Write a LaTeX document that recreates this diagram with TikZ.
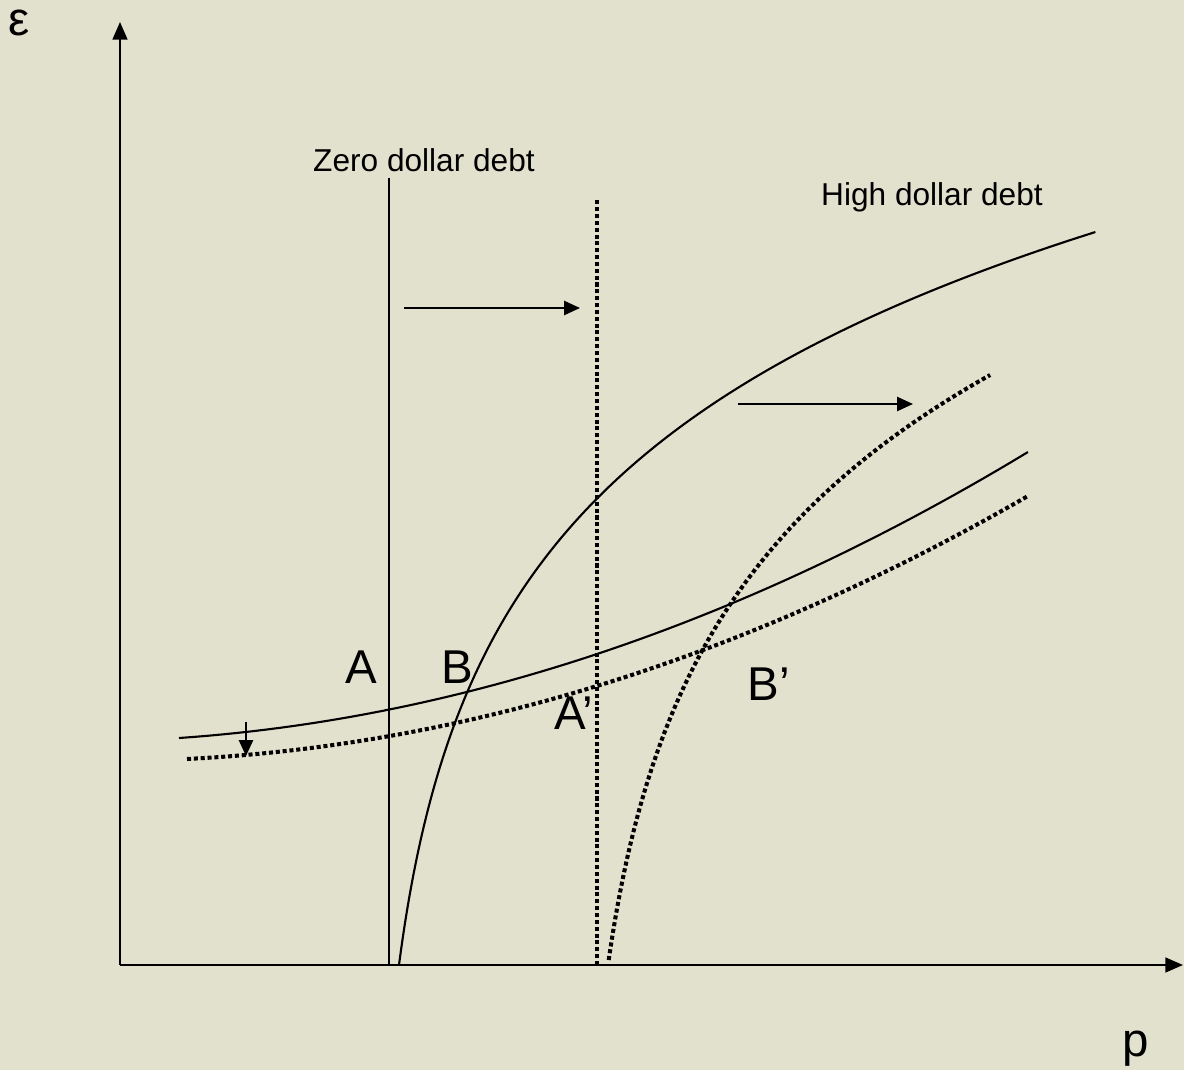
\documentclass[tikz,border=0pt]{standalone}
\usepackage{fontspec}
\setmainfont{Liberation Sans}
\usetikzlibrary{arrows.meta}
\definecolor{paper}{RGB}{226,225,205}
\tikzset{
  axisline/.style={draw=black, line width=0.6pt, -{Triangle[length=5pt,width=4.2pt]}},
  curve/.style={draw=black, line width=0.6pt},
  dotcurve/.style={draw=black, line width=1.15pt, dash pattern=on 1.15pt off 0.8pt},
  shiftarrow/.style={draw=black, line width=0.6pt, -{Triangle[length=4.5pt,width=4pt]}},
  ptlabel/.style={anchor=base, inner sep=0pt, font=\fontsize{13.5}{16}\selectfont},
  tag/.style={anchor=base, inner sep=0pt, font=\fontsize{9}{11}\selectfont}
}

\begin{document}
\begin{tikzpicture}[x=0.1mm, y=-0.1mm]
  \fill[paper] (0,0) rectangle (1184,1070);
  \useasboundingbox (0,0) rectangle (1184,1070);

  % axes
  \coordinate (origin) at (120,965);
  \coordinate (ytop)   at (120,22);
  \coordinate (xend)   at (1183,965);
  \draw[axisline] (origin) -- (ytop);
  \draw[axisline] (origin) -- (xend);
  \node[ptlabel] (eps) at (19,35)    {ε};
  \node[ptlabel] (pax) at (1136,1057) {p};

  % vertical schedules
  \coordinate (zbot) at (389,965);
  \coordinate (ztop) at (389,178);
  \coordinate (hbot) at (597,965);
  \coordinate (htop) at (597,200);
  \draw[curve]    (zbot) -- (ztop);
  \draw[dotcurve] (hbot) -- (htop);

  % steep curves
  \draw[curve] plot[domain=0:733, samples=90, smooth]
    ({399+30*(exp(\x/230)-1)}, {965-\x});
  \draw[dotcurve] plot[domain=5:590, samples=90, smooth]
    ({608+33*(exp(\x/233)-1)}, {965-\x});

  % flat curves
  \draw[curve] plot[domain=1.79:10.28, samples=60]
    ({100*\x}, {740.3+4.37*\x-3.153*\x*\x});
  \draw[dotcurve] plot[domain=1.87:10.28, samples=60]
    ({100*\x}, {757.4+6.693*\x-3.1247*\x*\x});

  % shifts
  \coordinate (zs) at (404,308);
  \coordinate (ze) at (580,308);
  \coordinate (hs) at (738,404);
  \coordinate (he) at (913,404);
  \coordinate (ds) at (246,722);
  \coordinate (de) at (246,756);
  \foreach \i/\j in {zs/ze,hs/he,ds/de}
    \draw[shiftarrow] (\i) -- (\j);

  % labels
  \node[tag] (zero) at (424,172) {Zero dollar debt};
  \node[tag] (high) at (932,205) {High dollar debt};
  \node[ptlabel] (A)  at (361,683) {A};
  \node[ptlabel] (B)  at (457,683) {B};
  \node[ptlabel] (A2) at (574,730) {A’};
  \node[ptlabel] (B2) at (769,700) {B’};
\end{tikzpicture}
\end{document}
